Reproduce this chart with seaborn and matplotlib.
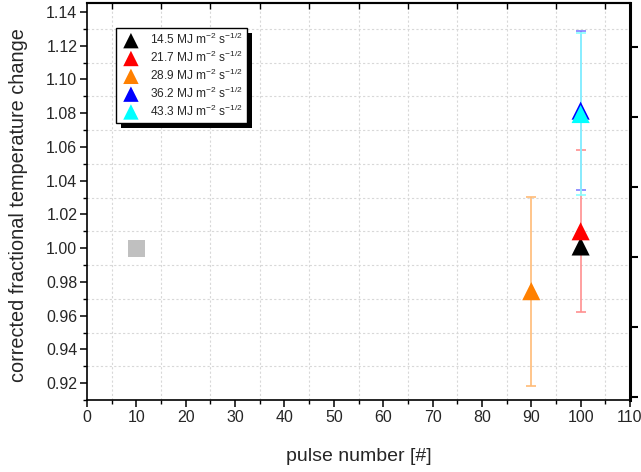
import matplotlib
matplotlib.use("Agg")
import matplotlib.pyplot as plt
import seaborn as sns
import pandas as pd
from matplotlib.ticker import MultipleLocator, NullFormatter
from matplotlib.patches import Rectangle

# ---------------- data ----------------
series_labels = [
    r"14.5 MJ m$^{-2}$ s$^{-1/2}$",
    r"21.7 MJ m$^{-2}$ s$^{-1/2}$",
    r"28.9 MJ m$^{-2}$ s$^{-1/2}$",
    r"36.2 MJ m$^{-2}$ s$^{-1/2}$",
    r"43.3 MJ m$^{-2}$ s$^{-1/2}$",
]
pulse_number = [100, 100, 90, 100, 100]
temp_change = [1.001, 1.010, 0.9745, 1.0815, 1.0795]
temp_error = [0.0, 0.048, 0.056, 0.047, 0.048]
series_colors = ["#000000", "#ff0000", "#ff8000", "#0000ff", "#00ffff"]
error_colors = ["#808080", "#ff9090", "#ffbb77", "#8080ff", "#88ffff"]

ref_pulse = [10]
ref_value = [1.0]

x_ticks = list(range(0, 111, 10))
y_ticks = [0.92, 0.94, 0.96, 0.98, 1.00, 1.02, 1.04, 1.06, 1.08, 1.10, 1.12, 1.14]
x_grid = list(range(5, 110, 10))
y_grid = [0.93, 0.95, 0.97, 0.99, 1.01, 1.03, 1.05, 1.07, 1.09, 1.11, 1.13]

df = pd.DataFrame({"pulse": pulse_number, "value": temp_change,
                   "err": temp_error, "series": series_labels})
ref_df = pd.DataFrame({"pulse": ref_pulse, "value": ref_value})

# ---------------- style ----------------
sns.set_style("white")
plt.rcParams["font.family"] = ["Liberation Sans", "DejaVu Sans"]
plt.rcParams["mathtext.fontset"] = "custom"
plt.rcParams["mathtext.rm"] = "Liberation Sans"
plt.rcParams["mathtext.it"] = "Liberation Sans:italic"
plt.rcParams["mathtext.bf"] = "Liberation Sans:bold"
plt.rcParams["axes.grid"] = False

fig = plt.figure(figsize=(6.41, 4.72), dpi=100)
ax = fig.add_axes([87 / 641, 1 - 400 / 472, 543 / 641, 397 / 472])
ax.grid(False)

# dotted grid
for gx in x_grid:
    ax.axvline(gx, color="#d8d8d8", linestyle=(0, (2, 2)), linewidth=0.8, zorder=0)
for gy in y_grid:
    ax.axhline(gy, color="#d8d8d8", linestyle=(0, (2, 2)), linewidth=0.8, zorder=0)

# error bars (drawn behind markers)
for (_, row), ec in zip(df.iterrows(), error_colors):
    if row["err"] > 0:
        ax.errorbar(row["pulse"], row["value"], yerr=row["err"], fmt="none",
                    ecolor=ec, elinewidth=1.2, capsize=3.5,
                    capthick=1.2, zorder=2)

# reference square
sns.scatterplot(data=ref_df, x="pulse", y="value", marker="s", color="#c0c0c0",
                s=150, edgecolor="none", ax=ax, zorder=3, legend=False)

# triangles
for lab, c in zip(series_labels, series_colors):
    sub = df[df["series"] == lab]
    sns.scatterplot(data=sub, x="pulse", y="value", marker="^", color=c,
                    s=170, edgecolor="none", ax=ax, label=lab, zorder=3)

ax.set_xlim(0, 110)
ax.set_ylim(0.91, 1.1453)
ax.set_xticks(x_ticks)
ax.set_yticks(y_ticks)
ax.set_yticklabels([f"{v:.2f}" for v in y_ticks])
ax.xaxis.set_minor_locator(MultipleLocator(5))
ax.yaxis.set_minor_locator(MultipleLocator(0.01))

ax.tick_params(axis="both", which="major", direction="out", length=5, width=1.1,
               labelsize=11.5, color="black", left=True, bottom=True, pad=2)
ax.tick_params(axis="both", which="minor", direction="out", length=3, width=1.0,
               left=True, bottom=True, color="black")
ax.set_xlabel("pulse number [#]", fontsize=14)
ax.set_ylabel("corrected fractional temperature change", fontsize=14.3)
ax.xaxis.set_label_coords(0.5, -0.12, transform=ax.transAxes)
ax.yaxis.set_label_coords(-0.109, 0.49, transform=ax.transAxes)
for s in ["left", "bottom"]:
    ax.spines[s].set_linewidth(1.2)
    ax.spines[s].set_color("black")
ax.spines["top"].set_linewidth(1.5)
ax.spines["right"].set_visible(False)

# right axis with its own ticks
ax2 = ax.twinx()
ax2.grid(False)
ax2.set_ylim(ax.get_ylim())
ax2.set_yticks([0.9118, 0.9532, 0.9946, 1.0361, 1.0775, 1.119])
ax2.yaxis.set_major_formatter(NullFormatter())
ax2.tick_params(axis="y", which="major", direction="out", length=6, width=1.5,
                right=True, color="black")
ax2.spines["right"].set_linewidth(2.2)
ax2.spines["right"].set_color("black")
for s in ["left", "top", "bottom"]:
    ax2.spines[s].set_visible(False)

# top axis with inward ticks
ax3 = ax.twiny()
ax3.grid(False)
ax3.set_xlim(ax.get_xlim())
ax3.set_xticks(x_grid)
ax3.xaxis.set_major_formatter(NullFormatter())
ax3.tick_params(axis="x", which="major", direction="in", length=4, width=1.0,
                top=True, color="black")
for s in ["left", "right", "bottom"]:
    ax3.spines[s].set_visible(False)
ax3.spines["top"].set_linewidth(1.5)
ax3.spines["top"].set_color("black")

# legend
leg = ax.legend(loc="upper left", bbox_to_anchor=((116 - 87) / 543, (400 - 28) / 397),
                borderaxespad=0, frameon=True, fancybox=False, framealpha=1,
                edgecolor="black", fontsize=8.6, markerscale=0.85,
                handletextpad=0.7, labelspacing=0.22, borderpad=0.35,
                handlelength=1.8, handleheight=0.9)
leg.get_frame().set_linewidth(1.0)
leg.set_zorder(10)

fig.canvas.draw()
bb = leg.get_window_extent()
inv = ax.transAxes.inverted()
(x0, y0) = inv.transform((bb.x0 + 5, bb.y0 - 5))
(x1, y1) = inv.transform((bb.x1 + 5, bb.y1 - 5))
ax.add_patch(Rectangle((x0, y0), x1 - x0, y1 - y0, transform=ax.transAxes,
                       facecolor="black", edgecolor="none", zorder=9, clip_on=False))

fig.savefig("out.png", dpi=100)
